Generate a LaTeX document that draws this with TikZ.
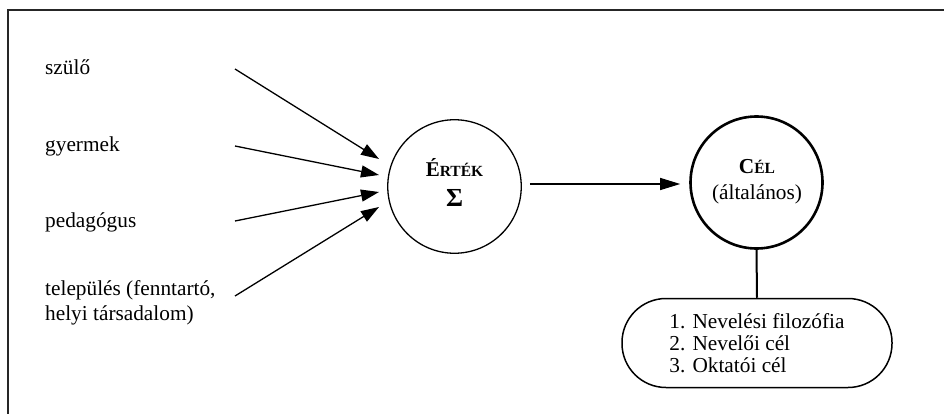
\documentclass[tikz,border=0pt]{standalone}
\usepackage{fontspec}
\setmainfont{Liberation Serif}
\usetikzlibrary{arrows.meta,calc}
\begin{document}
\begin{tikzpicture}[x=1pt,y=-1pt,
  lbl/.style={anchor=base west,inner sep=0pt,font=\fontsize{21.3}{25}\selectfont,align=left},
  inarrow/.style={draw=black,line width=1.3pt,-{Triangle[length=18pt,width=12pt]}},
  ertekc/.style={circle,draw=black,line width=1.3pt,minimum size=133.5pt,inner sep=0pt},
  celc/.style={circle,draw=black,line width=2.6pt,minimum size=132pt,inner sep=0pt},
  ctext/.style={align=center,inner sep=0pt,anchor=base},
  listbox/.style={draw=black,line width=1.5pt,rounded corners=44pt,minimum width=270pt,minimum height=89pt,align=left,inner sep=0pt,font=\fontsize{21.3}{22}\selectfont},
  frame/.style={draw=black!85,line width=1.6pt}
]
\useasboundingbox (0,0) rectangle (944,414);
\draw[frame] (8,414) -- (8,10) -- (944,10);

\node[lbl] (szulo) at (45,75) {szülő};
\node[lbl] (gyer) at (45,152) {gyermek};
\node[lbl] (ped) at (45,227) {pedagógus};
\node[lbl] (tel) at (45,320) {település (fenntartó,\\helyi társadalom)};

\coordinate (s1) at (235,69);
\coordinate (s2) at (235,146);
\coordinate (s3) at (235,221);
\coordinate (s4) at (235,296);
\coordinate (t1) at (379,159);
\coordinate (t2) at (379,175);
\coordinate (t3) at (379,192);
\coordinate (t4) at (379,207);

\node[ertekc] (E) at (454.5,186.5) {};
\node[ctext,font=\fontsize{21}{30}\selectfont] (Et) at (454.5,206) {{\bfseries É}{\fontsize{15.5}{30}\selectfont\bfseries RTÉK}\\{\fontsize{26}{30}\selectfont\bfseries Σ}};

\node[celc] (C) at (756.5,182.5) {};
\node[ctext,font=\fontsize{21.3}{25}\selectfont] (Ct) at (757,199) {{\bfseries C}{\fontsize{15.5}{25}\selectfont\bfseries ÉL}\\(általános)};

\node[listbox] (L) at (757,343) {1. Nevelési filozófia\\2. Nevelői cél\\3. Oktatói cél};

\draw[inarrow] (s1) -- (t1);
\draw[inarrow] (s2) -- (t2);
\draw[inarrow] (s3) -- (t3);
\draw[inarrow] (s4) -- (t4);

\draw[inarrow,-{Triangle[length=20pt,width=12pt]}] ([xshift=8pt,yshift=2.5pt]E.east) -- ([xshift=-9pt,yshift=-1.5pt]C.west);
\draw[line width=2pt] (C.south) -- (L.north);
\end{tikzpicture}
\end{document}
